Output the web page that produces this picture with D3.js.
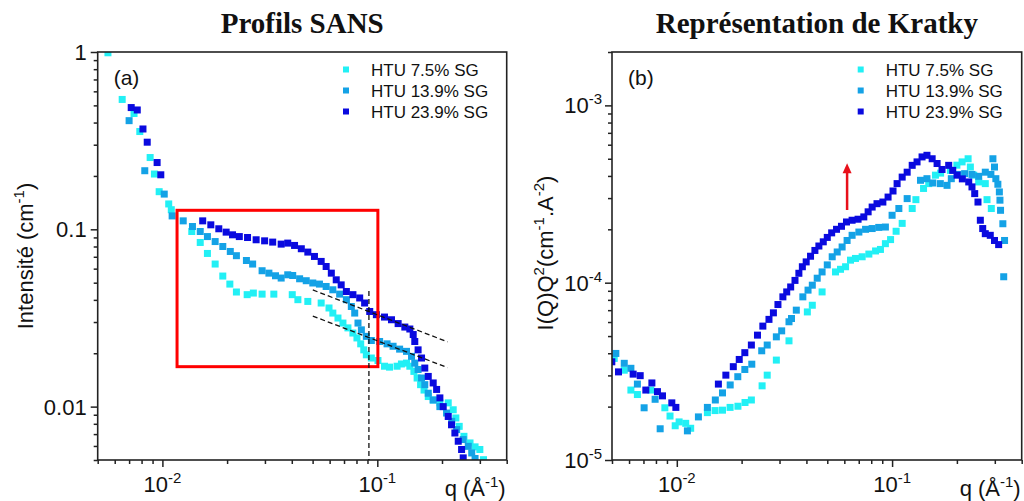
<!DOCTYPE html>
<html><head><meta charset="utf-8">
<script src="https://cdn.jsdelivr.net/npm/d3@7"></script>
<style>body{margin:0;background:#fff}svg{display:block}</style>
</head><body>
<svg id="c" width="1024" height="501"></svg>
<script>
// ---------- data ----------
const seriesNames = ["HTU 7.5% SG", "HTU 13.9% SG", "HTU 23.9% SG"];
const seriesColors = ["#22F0F5", "#14A2E6", "#0A0ADF"];

// Left panel: SANS profiles, [q (Å^-1), I (cm^-1)]
const sans75 = [[0.00558,0.99],[0.0065,0.54],[0.00738,0.45],[0.00785,0.356],[0.00877,0.254],[0.00918,0.205],[0.00966,0.163],[0.0107,0.139],[0.011,0.129],[0.0137,0.0972],[0.015,0.0843],[0.0162,0.0731],[0.0176,0.0637],[0.0191,0.0545],[0.0206,0.0491],[0.0221,0.0443],[0.0248,0.0428],[0.0265,0.0437],[0.0291,0.0431],[0.033,0.0431],[0.0402,0.0428],[0.0427,0.0401],[0.0475,0.0392],[0.0548,0.0384],[0.0596,0.036],[0.0621,0.0337],[0.0656,0.0316],[0.0692,0.0296],[0.073,0.0278],[0.077,0.026],[0.0804,0.0244],[0.0837,0.0226],[0.0865,0.0209],[0.0889,0.0196],[0.0938,0.0188],[0.1007,0.0182],[0.108,0.0169],[0.114,0.0167],[0.1236,0.0169],[0.1295,0.0174],[0.1367,0.0176],[0.1417,0.0169],[0.148,0.0158],[0.1532,0.0145],[0.159,0.0133],[0.165,0.0124],[0.1726,0.0114],[0.182,0.0109],[0.1955,0.0105],[0.2138,0.0105],[0.2255,0.0096],[0.232,0.00863],[0.2405,0.00774],[0.253,0.0068],[0.27,0.00624],[0.285,0.00593],[0.3,0.00573],[0.312,0.00502]];
const sans139 = [[0.007,0.41],[0.00828,0.214],[0.0102,0.158],[0.0111,0.119],[0.0125,0.1116],[0.0138,0.1037],[0.015,0.0972],[0.0162,0.091],[0.0176,0.0853],[0.0191,0.08],[0.0207,0.075],[0.0221,0.071],[0.0246,0.0667],[0.0263,0.0637],[0.0291,0.0584],[0.0313,0.0566],[0.0336,0.0547],[0.0357,0.0531],[0.0383,0.0554],[0.0404,0.0549],[0.0435,0.0526],[0.0467,0.0513],[0.0501,0.0498],[0.0538,0.0491],[0.0578,0.0476],[0.0621,0.0456],[0.0668,0.0431],[0.0718,0.0401],[0.0757,0.0367],[0.0785,0.0337],[0.0813,0.0296],[0.0843,0.0271],[0.0889,0.0249],[0.0938,0.0236],[0.1025,0.0233],[0.111,0.0226],[0.1184,0.0219],[0.127,0.0211],[0.1367,0.0205],[0.1443,0.0192],[0.1494,0.0176],[0.1548,0.0162],[0.1606,0.0145],[0.1663,0.0133],[0.1726,0.0119],[0.182,0.0109],[0.1955,0.01],[0.21,0.0092],[0.222,0.00826],[0.234,0.00742],[0.251,0.00652],[0.265,0.00597],[0.275,0.00548],[0.285,0.0051]];
const sans239 = [[0.00716,0.486],[0.00764,0.471],[0.00812,0.368],[0.0085,0.31],[0.00945,0.238],[0.00983,0.203],[0.0154,0.1116],[0.0168,0.106],[0.0183,0.1007],[0.0198,0.0964],[0.0212,0.0931],[0.0228,0.091],[0.0249,0.0899],[0.0273,0.0873],[0.0299,0.0861],[0.0326,0.0847],[0.0357,0.0825],[0.0383,0.0836],[0.0412,0.0811],[0.0443,0.0777],[0.0475,0.0744],[0.051,0.0703],[0.0548,0.0659],[0.0578,0.0617],[0.0611,0.0566],[0.0644,0.0519],[0.0679,0.0486],[0.0718,0.0446],[0.077,0.0428],[0.0828,0.041],[0.0873,0.0384],[0.0922,0.0344],[0.099,0.033],[0.108,0.032],[0.1164,0.0309],[0.125,0.0294],[0.1343,0.0281],[0.1417,0.0274],[0.1469,0.0255],[0.1494,0.0233],[0.1548,0.0209],[0.1606,0.0188],[0.1663,0.0165],[0.1726,0.0148],[0.182,0.0136],[0.1888,0.0125],[0.1955,0.0112],[0.2026,0.01],[0.2138,0.0088],[0.2215,0.0079],[0.2296,0.0071],[0.238,0.00638],[0.2467,0.00573],[0.251,0.00514]];

// Right panel: Kratky, [q (Å^-1), I(Q)Q^2]
const krat75 = [[0.00512,3.74e-5],[0.0057,3.21e-5],[0.00612,2.48e-5],[0.00656,2.34e-5],[0.00757,2.48e-5],[0.0088,1.97e-5],[0.0093,1.77e-5],[0.00983,1.56e-5],[0.01025,1.64e-5],[0.011,1.61e-5],[0.0116,1.51e-5],[0.01387,1.85e-5],[0.01506,1.9e-5],[0.0163,1.91e-5],[0.01768,1.98e-5],[0.01923,2.01e-5],[0.02074,2.11e-5],[0.0222,2.18e-5],[0.0249,2.62e-5],[0.0263,3.01e-5],[0.029,3.66e-5],[0.0332,4.7e-5],[0.0404,6.84e-5],[0.0426,7.46e-5],[0.0473,8.87e-5],[0.0546,1.15e-4],[0.0576,1.19e-4],[0.0608,1.23e-4],[0.0641,1.34e-4],[0.0676,1.37e-4],[0.0726,1.4e-4],[0.078,1.45e-4],[0.0838,1.51e-4],[0.0883,1.54e-4],[0.0931,1.66e-4],[0.0984,1.75e-4],[0.1044,1.95e-4],[0.1114,2.16e-4],[0.124,2.62e-4],[0.129,2.94e-4],[0.14,3.4e-4],[0.148,3.62e-4],[0.159,4.04e-4],[0.168,4.15e-4],[0.1866,4.3e-4],[0.2,4.6e-4],[0.2114,4.8e-4],[0.2255,5.0e-4],[0.231,4.49e-4],[0.2395,4.04e-4],[0.2525,3.7e-4],[0.271,3.62e-4],[0.276,2.94e-4],[0.289,2.62e-4]];
const krat139 = [[0.00521,3.99e-5],[0.0057,3.51e-5],[0.00612,3.29e-5],[0.00656,2.68e-5],[0.00705,1.97e-5],[0.00793,2.2e-5],[0.00837,1.5e-5],[0.0112,1.46e-5],[0.0126,1.75e-5],[0.01387,1.98e-5],[0.0151,2.18e-5],[0.0163,2.39e-5],[0.0177,2.65e-5],[0.0192,2.95e-5],[0.0207,3.24e-5],[0.0223,3.47e-5],[0.0248,4.13e-5],[0.0263,4.45e-5],[0.029,4.95e-5],[0.0307,5.35e-5],[0.0332,6.02e-5],[0.0341,6.28e-5],[0.0359,7.0e-5],[0.0385,8.32e-5],[0.0407,9.08e-5],[0.0426,9.68e-5],[0.0449,1.06e-4],[0.0473,1.15e-4],[0.05,1.26e-4],[0.0527,1.4e-4],[0.0556,1.49e-4],[0.0586,1.59e-4],[0.0618,1.73e-4],[0.0652,1.85e-4],[0.0701,1.93e-4],[0.0753,2.0e-4],[0.0808,2.02e-4],[0.0867,2.05e-4],[0.0931,2.06e-4],[0.1,2.4e-4],[0.1075,2.62e-4],[0.1175,2.98e-4],[0.1355,3.78e-4],[0.1452,3.86e-4],[0.1545,3.65e-4],[0.1675,3.62e-4],[0.18,3.54e-4],[0.1884,3.86e-4],[0.2023,4.08e-4],[0.2173,4.12e-4],[0.235,4.08e-4],[0.2525,3.98e-4],[0.271,4.2e-4],[0.2877,4.08e-4],[0.294,5.0e-4],[0.299,4.49e-4],[0.3034,3.86e-4],[0.31,3.59e-4],[0.315,3.25e-4],[0.317,2.92e-4],[0.319,2.56e-4],[0.327,2.15e-4],[0.333,1.73e-4],[0.33,1.08e-4]];
const krat239 = [[0.00499,3.58e-5],[0.00536,3.14e-5],[0.00627,3.05e-5],[0.00676,2.99e-5],[0.00718,2.48e-5],[0.00766,2.72e-5],[0.00813,2.43e-5],[0.00858,2.3e-5],[0.00948,2.1e-5],[0.0099,1.98e-5],[0.0156,2.68e-5],[0.0169,3.01e-5],[0.0183,3.36e-5],[0.0195,3.69e-5],[0.0207,4.03e-5],[0.0222,4.45e-5],[0.0237,5.06e-5],[0.0251,5.69e-5],[0.0268,6.21e-5],[0.0281,6.76e-5],[0.0295,7.53e-5],[0.0311,8.32e-5],[0.0324,8.87e-5],[0.0338,9.46e-5],[0.0354,1.03e-4],[0.0369,1.13e-4],[0.0383,1.23e-4],[0.0399,1.31e-4],[0.0418,1.41e-4],[0.0438,1.52e-4],[0.0457,1.61e-4],[0.0479,1.7e-4],[0.05,1.8e-4],[0.0524,1.91e-4],[0.0552,2.0e-4],[0.0582,2.08e-4],[0.0614,2.2e-4],[0.0652,2.25e-4],[0.0695,2.28e-4],[0.0739,2.35e-4],[0.0774,2.51e-4],[0.0808,2.67e-4],[0.0851,2.79e-4],[0.0906,2.85e-4],[0.0958,3.04e-4],[0.101,3.29e-4],[0.1055,3.62e-4],[0.1114,3.94e-4],[0.1175,4.2e-4],[0.124,4.59e-4],[0.1306,4.8e-4],[0.1378,5.12e-4],[0.1452,5.23e-4],[0.1535,5.0e-4],[0.1618,4.7e-4],[0.1706,4.35e-4],[0.1832,4.59e-4],[0.1913,4.3e-4],[0.2003,4.04e-4],[0.212,3.85e-4],[0.227,3.7e-4],[0.235,3.47e-4],[0.242,3.18e-4],[0.2506,2.85e-4],[0.257,2.25e-4],[0.2636,2.02e-4],[0.271,1.89e-4],[0.2858,1.85e-4],[0.299,1.73e-4],[0.3126,1.64e-4]];

// Axis domains and ticks
const qDomain = [0.005, 0.4];
const sansDomain = [0.005, 1];
const kratDomain = [1e-5, 2e-3];
const qMajor = [0.01, 0.1];
const qMajorLabels = [["10","-2"],["10","-1"]];
const sansMajor = [1, 0.1, 0.01];
const sansMajorLabels = ["1", "0.1", "0.01"];
const kratMajor = [1e-3, 1e-4, 1e-5];
const kratMajorLabels = [["10","-3"],["10","-4"],["10","-5"]];

// Annotations (data coordinates)
const zoomBoxQ = [0.0117, 0.1006];
const zoomBoxI = [0.0168, 0.128];
const vDashQ = 0.0914, vDashTopI = 0.0449;
const slopeLines = [[[0.0501,0.0455],[0.212,0.0232]], [[0.0501,0.0324],[0.212,0.0166]]];
const arrowQ = 0.0618, arrowK = [2.57e-4, 4.71e-4];

// ---------- drawing ----------
const SANS = '"Liberation Sans", Arial, sans-serif';
const SERIF = '"Liberation Serif", "Times New Roman", serif';
const svg = d3.select("#c");

function minorTicks(domain) {
  const out = [];
  const lo = Math.floor(Math.log10(domain[0])), hi = Math.ceil(Math.log10(domain[1]));
  for (let e = lo; e <= hi; e++) for (let m = 2; m <= 9; m++) {
    const v = m * Math.pow(10, e);
    if (v >= domain[0]*0.999 && v <= domain[1]*1.001) out.push(v);
  }
  return out;
}

function supText(g, parts, fs, sfs, raise) {
  // parts: array of [text, isSup]
  const t = g.append("text").attr("font-family", SANS).attr("font-size", fs).attr("fill", "#111");
  let up = false;
  parts.forEach(([s, sup]) => {
    const ts = t.append("tspan").text(s);
    if (sup && !up) { ts.attr("dy", -raise).attr("font-size", sfs); up = true; }
    else if (sup) { ts.attr("font-size", sfs); }
    else if (!sup && up) { ts.attr("dy", raise); up = false; }
  });
  return t;
}

function panel(cfg) {
  const {x0, x1, y0, y1, yDomain, data, yMajor, yLabels, yLabelSup, id} = cfg;
  const x = d3.scaleLog().domain(qDomain).range([x0, x1]);
  const y = d3.scaleLog().domain(yDomain).range([y1, y0]);
  const g = svg.append("g");

  g.append("clipPath").attr("id", "clip" + id).append("rect")
    .attr("x", x0).attr("y", y0).attr("width", x1 - x0).attr("height", y1 - y0);

  // minor & major ticks
  const axB = g.append("g").attr("transform", `translate(0,${y1})`);
  axB.call(d3.axisBottom(x).tickValues(minorTicks(qDomain)).tickSize(4).tickFormat(""));
  axB.append("g").call(d3.axisBottom(x).tickValues(qMajor).tickSize(7).tickFormat(""));
  const axL = g.append("g").attr("transform", `translate(${x0},0)`);
  axL.call(d3.axisLeft(y).tickValues(minorTicks(yDomain)).tickSize(4).tickFormat(""));
  axL.append("g").call(d3.axisLeft(y).tickValues(yMajor).tickSize(7).tickFormat(""));
  g.selectAll(".domain").remove();
  g.selectAll(".tick line").attr("stroke", "#222").attr("stroke-width", 1.5);

  // x tick labels
  qMajor.forEach((v, i) => {
    supText(g, [[qMajorLabels[i][0], false], [qMajorLabels[i][1], true]], 22, 15, 9)
      .attr("x", x(v)).attr("y", y1 + 32).attr("text-anchor", "middle");
  });
  // y tick labels
  yMajor.forEach((v, i) => {
    if (yLabelSup) {
      supText(g, [[yLabels[i][0], false], [yLabels[i][1], true]], 22, 15, 9)
        .attr("x", x0 - 10).attr("y", y(v) + 8).attr("text-anchor", "end");
    } else {
      g.append("text").attr("font-family", SANS).attr("font-size", 22).attr("fill", "#111")
        .attr("x", x0 - 11).attr("y", y(v) + 8).attr("text-anchor", "end").text(yLabels[i]);
    }
  });

  const plot = g.append("g").attr("clip-path", `url(#clip${id})`);
  data.forEach((ser, si) => {
    plot.append("g").selectAll("rect").data(ser).join("rect")
      .attr("x", d => x(d[0]) - 3.5).attr("y", d => y(d[1]) - 3.5)
      .attr("width", 7).attr("height", 7).attr("fill", seriesColors[si]);
  });

  // frame
  g.append("rect").attr("x", x0).attr("y", y0).attr("width", x1 - x0).attr("height", y1 - y0)
    .attr("fill", "none").attr("stroke", "#222").attr("stroke-width", 1.6);

  // legend
  const lx = cfg.legendX, ly = 69.5;
  seriesNames.forEach((n, i) => {
    g.append("rect").attr("x", lx - 3).attr("y", ly + i * 21 - 3).attr("width", 6).attr("height", 6)
      .attr("fill", seriesColors[i]);
    g.append("text").attr("font-family", SANS).attr("font-size", 17).attr("fill", "#111")
      .attr("x", lx + 25).attr("y", ly + i * 21 + 6).text(n);
  });

  // panel letter
  g.append("text").attr("font-family", SANS).attr("font-size", 21).attr("fill", "#111")
    .attr("x", x0 + 16).attr("y", 85).text(cfg.letter);

  // x label
  supText(g, [["q (Å", false], ["-1", true], [")", false]], 22, 15, 9)
    .attr("x", x1 - 1).attr("y", 496).attr("text-anchor", "end");

  // title
  g.append("text").attr("font-family", SERIF).attr("font-weight", "bold").attr("font-size", 29)
    .attr("fill", "#111").attr("x", (x0 + x1) / 2).attr("y", 33).attr("text-anchor", "middle")
    .text(cfg.title);

  return {g, x, y, plot};
}

// Left panel
const L = panel({id: "L", x0: 97.7, x1: 506.7, y0: 52, y1: 460, yDomain: sansDomain,
  data: [sans75, sans139, sans239], yMajor: sansMajor, yLabels: sansMajorLabels, yLabelSup: false,
  legendX: 346, letter: "(a)", title: "Profils SANS"});
supText(L.g, [["Intensité (cm", false], ["-1", true], [")", false]], 22, 15, 9)
  .attr("text-anchor", "middle").attr("transform", "translate(33,256) rotate(-90)");

// red box
L.g.append("rect").attr("x", L.x(zoomBoxQ[0])).attr("y", L.y(zoomBoxI[1]))
  .attr("width", L.x(zoomBoxQ[1]) - L.x(zoomBoxQ[0])).attr("height", L.y(zoomBoxI[0]) - L.y(zoomBoxI[1]))
  .attr("fill", "none").attr("stroke", "#FF0000").attr("stroke-width", 3);
// dashed guides
L.g.append("line").attr("x1", L.x(vDashQ)).attr("x2", L.x(vDashQ))
  .attr("y1", L.y(vDashTopI)).attr("y2", L.y(sansDomain[0]))
  .attr("stroke", "#111").attr("stroke-width", 1.3).attr("stroke-dasharray", "5,3");
slopeLines.forEach(s => {
  L.g.append("line").attr("x1", L.x(s[0][0])).attr("y1", L.y(s[0][1]))
    .attr("x2", L.x(s[1][0])).attr("y2", L.y(s[1][1]))
    .attr("stroke", "#111").attr("stroke-width", 1.3).attr("stroke-dasharray", "5,3");
});

// Right panel
const R = panel({id: "R", x0: 612, x1: 1021.7, y0: 52, y1: 460, yDomain: kratDomain,
  data: [krat75, krat139, krat239], yMajor: kratMajor, yLabels: kratMajorLabels, yLabelSup: true,
  legendX: 860.7, letter: "(b)", title: "Représentation de Kratky"});
supText(R.g, [["I(Q)Q", false], ["2", true], ["(cm", false], ["-1", true], [".A", false], ["-2", true], [")", false]], 22, 15, 9)
  .attr("text-anchor", "middle").attr("transform", "translate(553,253) rotate(-90)");

// red arrow
const ax = R.x(arrowQ), ay0 = R.y(arrowK[0]), ay1 = R.y(arrowK[1]);
R.g.append("line").attr("x1", ax).attr("x2", ax).attr("y1", ay0).attr("y2", ay1 + 8)
  .attr("stroke", "#E8101A").attr("stroke-width", 2.5);
R.g.append("path").attr("d", `M${ax},${ay1} L${ax-4.5},${ay1+10} L${ax+4.5},${ay1+10} Z`).attr("fill", "#E8101A");
</script>
</body></html>
